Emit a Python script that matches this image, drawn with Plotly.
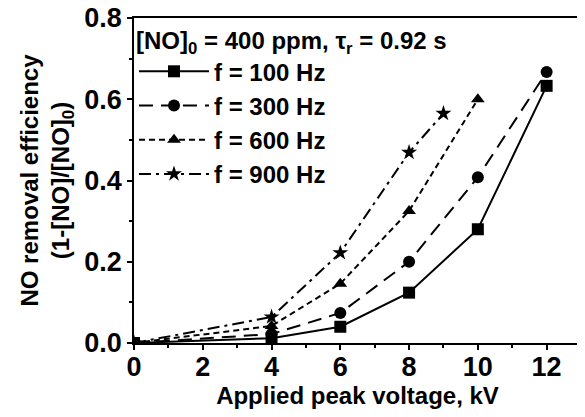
import plotly.graph_objects as go

voltage_100 = [0, 4, 6, 8, 10, 12]
eff_100 = [0, 0.012, 0.04, 0.124, 0.28, 0.633]

voltage_300 = [0, 4, 6, 8, 10, 12]
eff_300 = [0, 0.022, 0.074, 0.2, 0.408, 0.667]

voltage_600 = [0, 4, 6, 8, 10]
eff_600 = [0, 0.042, 0.146, 0.325, 0.6]

voltage_900 = [0, 4, 6, 8, 9]
eff_900 = [0, 0.064, 0.222, 0.469, 0.565]

labels = ["f = 100 Hz", "f = 300 Hz", "f = 600 Hz", "f = 900 Hz"]

series = [
    (voltage_100, eff_100, "square", "solid"),
    (voltage_300, eff_300, "circle", "14px,8px"),
    (voltage_600, eff_600, "triangle-up", "6px,4px"),
    (voltage_900, eff_900, "star", "12px,5px,3px,5px"),
]

fig = go.Figure()
for i, (x, y, sym, dash) in enumerate(series):
    fig.add_trace(go.Scatter(
        x=x, y=y, name=labels[i], mode="lines+markers",
        line=dict(color="black", width=2, dash=dash),
        marker=dict(symbol=sym, size=12, color="black"),
        legendgroup=str(i),
    ))

axis_common = dict(
    showline=True, linecolor="black", linewidth=1.5, mirror=True,
    ticks="outside", ticklen=5, tickwidth=1.5, tickcolor="black",
    showgrid=False, zeroline=False, automargin=False,
    ticklabeloverflow="allow",
    tickfont=dict(size=27, color="black"),
    title_font=dict(size=24, color="black"),
)

fig.update_xaxes(
    range=[0, 13], dtick=2, minor=dict(dtick=1, ticks="outside", ticklen=3, tickcolor="black"),
    title_text="Applied peak voltage, kV", title_standoff=4, ticklabelstandoff=-6,
    **axis_common,
)
fig.update_yaxes(
    range=[0, 0.8], dtick=0.2, tickformat=".1f",
    minor=dict(dtick=0.1, ticks="outside", ticklen=3, tickcolor="black"),
    title_text="NO removal efficiency<br>(1-[NO]/[NO]<sub>0</sub>)", title_standoff=8,
    **axis_common,
)

# page body has an 8px margin, so the figure is a bit smaller and shifted
fig.update_layout(
    width=577, height=409,
    margin=dict(l=126, r=4, t=10, b=74),
    plot_bgcolor="white", paper_bgcolor="white",
    font=dict(family="Liberation Sans, Arial", weight="bold", color="black"),
    legend=dict(
        x=0.0, y=1.0, xanchor="left", yanchor="top",
        bgcolor="rgba(0,0,0,0)", font=dict(size=24),
        title=dict(text="[NO]<sub>0</sub> = 400 ppm, τ<sub>r</sub> = 0.92 s", font=dict(size=24), side="top"),
        tracegroupgap=0, itemwidth=70,
    ),
)

fig.write_html("out.html")
